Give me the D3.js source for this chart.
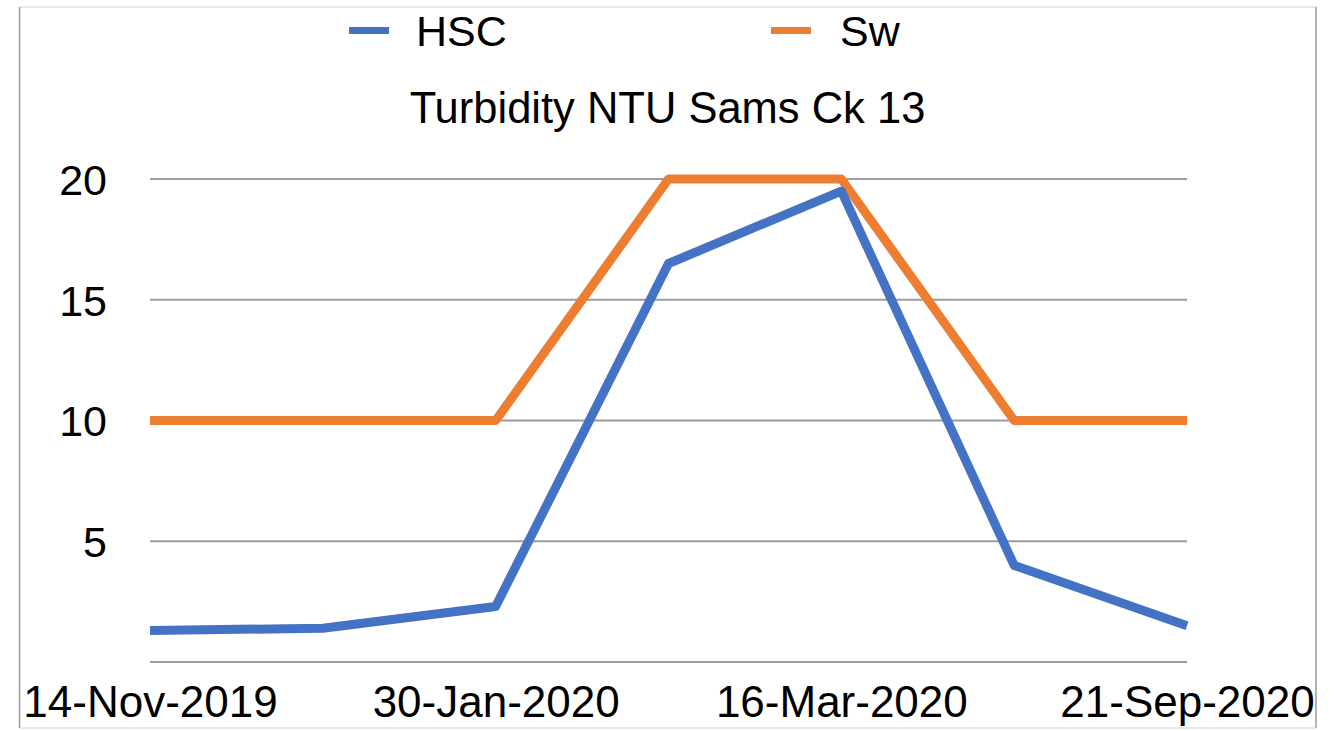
<!DOCTYPE html>
<html>
<head>
<meta charset="utf-8">
<script src="https://cdn.jsdelivr.net/npm/d3@7"></script>
<style>
  html, body { margin: 0; padding: 0; background: #fff; }
  svg { display: block; font-family: "Liberation Sans", Arial, Helvetica, sans-serif; }
</style>
</head>
<body>
<svg id="chart" width="1340" height="731"></svg>
<script>
// ---- data ----
const categories = [0, 1, 2, 3, 4, 5, 6];
const tickLabels = ["14-Nov-2019", "", "30-Jan-2020", "", "16-Mar-2020", "", "21-Sep-2020"];
const hscValues = [1.3, 1.4, 2.3, 16.5, 19.5, 4.0, 1.5];
const swValues = [10, 10, 10, 20, 20, 10, 10];
const yTicks = [5, 10, 15, 20];
const seriesNames = ["HSC", "Sw"];
const seriesColors = ["#4472C4", "#ED7D31"];
const title = "Turbidity NTU Sams Ck 13";

const svg = d3.select("#chart");

// frame
svg.append("line").attr("x1", 19.5).attr("x2", 19.5).attr("y1", 7).attr("y2", 728).attr("stroke", "#9a9a9a").attr("stroke-width", 1.5);
svg.append("line").attr("x1", 1316).attr("x2", 1316).attr("y1", 7).attr("y2", 728).attr("stroke", "#9a9a9a").attr("stroke-width", 1.5);
svg.append("line").attr("x1", 19.5).attr("x2", 1316).attr("y1", 7).attr("y2", 7).attr("stroke", "#d0d0d0").attr("stroke-width", 1);
svg.append("line").attr("x1", 19.5).attr("x2", 1316).attr("y1", 728).attr("y2", 728).attr("stroke", "#d0d0d0").attr("stroke-width", 1);

const x = d3.scalePoint().domain(categories).range([150, 1187]);
const y = d3.scaleLinear().domain([0, 20]).range([662, 179]);

// grid lines (including baseline at 0)
svg.append("g").selectAll("line").data([0].concat(yTicks)).join("line")
  .attr("x1", 150).attr("x2", 1187)
  .attr("y1", d => y(d)).attr("y2", d => y(d))
  .attr("stroke", "#9c9c9c").attr("stroke-width", 2);

// y axis labels
const yAxis = d3.axisLeft(y).tickValues(yTicks).tickSize(0).tickPadding(0).tickFormat(d3.format("d"));
const yg = svg.append("g").attr("transform", "translate(107,0)").call(yAxis);
yg.select(".domain").remove();
yg.selectAll("text").attr("font-size", 43).attr("fill", "#000").attr("font-family", "Liberation Sans, Arial, sans-serif").attr("dy", "0.36em");

// x axis labels
const xAxis = d3.axisBottom(x).tickSize(0).tickPadding(0).tickFormat(d => tickLabels[d]);
const xg = svg.append("g").attr("transform", "translate(0,717)").call(xAxis);
xg.select(".domain").remove();
xg.selectAll("text").attr("font-size", 44).attr("fill", "#000").attr("font-family", "Liberation Sans, Arial, sans-serif").attr("dy", 0).attr("y", 0);

// lines
const line = d3.line().x((d, i) => x(categories[i])).y(d => y(d));
svg.append("path").datum(swValues).attr("d", line).attr("fill", "none")
  .attr("stroke", seriesColors[1]).attr("stroke-width", 9).attr("stroke-linejoin", "round");
svg.append("path").datum(hscValues).attr("d", line).attr("fill", "none")
  .attr("stroke", seriesColors[0]).attr("stroke-width", 9).attr("stroke-linejoin", "round");

// legend
const legendPos = [{sx: 349, tx: 416}, {sx: 771, tx: 840}];
seriesNames.forEach((name, i) => {
  svg.append("rect").attr("x", legendPos[i].sx).attr("y", 27).attr("width", 40).attr("height", 7).attr("fill", seriesColors[i]);
  svg.append("text").attr("x", legendPos[i].tx).attr("y", 46).attr("font-size", 43).attr("fill", "#000").text(name);
});

// title
svg.append("text").attr("x", 667.5).attr("y", 123).attr("text-anchor", "middle").attr("font-size", 43.5).attr("fill", "#000").text(title);
</script>
</body>
</html>
